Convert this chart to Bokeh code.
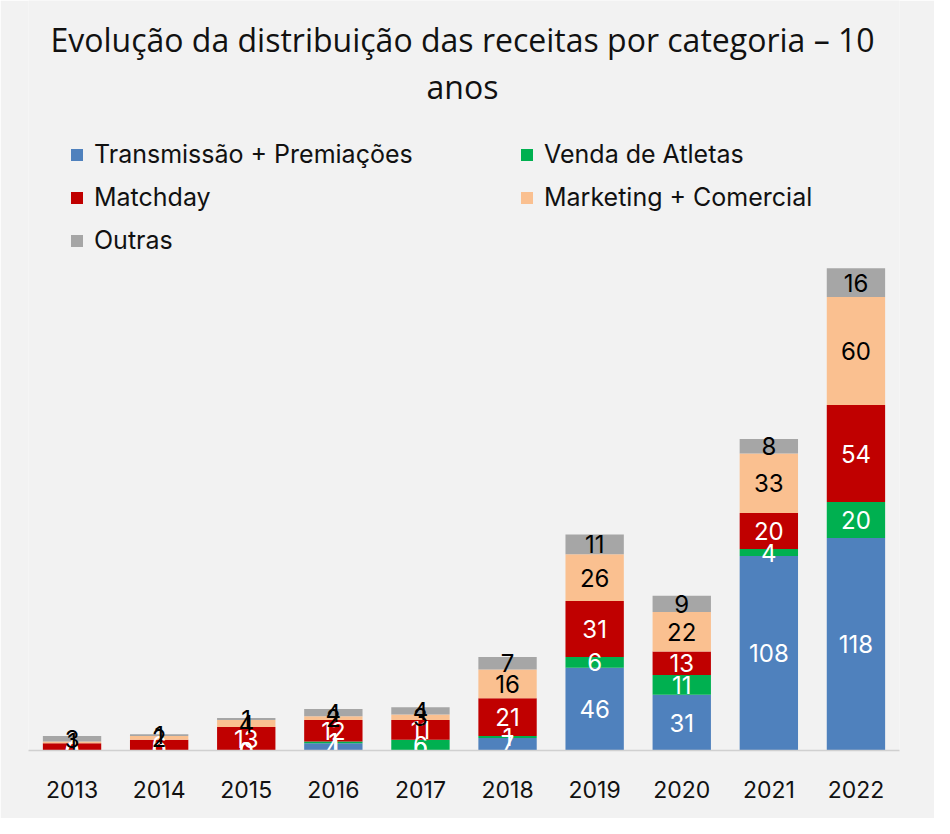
import numpy as np
from bokeh.plotting import figure
from bokeh.models import Range1d, Legend, LegendItem, Label, ColumnDataSource
from bokeh.core.properties import value
from bokeh.embed import file_html
from bokeh.resources import INLINE

years = ["2013", "2014", "2015", "2016", "2017", "2018", "2019", "2020", "2021", "2022"]
transmissao = [0, 0, 0, 4, 0, 7, 46, 31, 108, 118]
venda = [0, 0, 0, 1, 6, 1, 6, 11, 4, 20]
matchday = [4, 6, 13, 12, 11, 21, 31, 13, 20, 54]
marketing = [1, 2, 4, 2, 3, 16, 26, 22, 33, 60]
outras = [3, 1, 1, 4, 4, 7, 11, 9, 8, 16]

series = ["transmissao", "venda", "matchday", "marketing", "outras"]
names = ["Transmissão + Premiações", "Venda de Atletas", "Matchday", "Marketing + Comercial", "Outras"]
colors = ["#4f81bd", "#00b050", "#c00000", "#fac090", "#a6a6a6"]
label_colors = ["white", "white", "white", "black", "black"]
title_line1 = "Evolução da distribuição das receitas por categoria – 10"
title_line2 = "anos"

BG = "#f2f2f2"
FONT = "Inter"

data = dict(years=years, transmissao=transmissao, venda=venda, matchday=matchday,
            marketing=marketing, outras=outras)
src = ColumnDataSource(data)

p = figure(x_range=years, y_range=Range1d(0, 416.7), width=934, height=818,
           output_backend="svg", toolbar_location=None,
           min_border_left=28, min_border_right=35, min_border_top=0, min_border_bottom=68,
           background_fill_color=BG, border_fill_color=BG, outline_line_color=None)
p.x_range.range_padding = 0

renderers = p.vbar_stack(series, x="years", width=0.67, color=colors, source=src,
                         line_color=None)

# data labels
vals = np.array([transmissao, venda, matchday, marketing, outras], dtype=float)
bottoms = np.vstack([np.zeros(len(years)), np.cumsum(vals, axis=0)[:-1]])
for i in range(len(series)):
    ys = bottoms[i] + vals[i] / 2.0
    ls = ColumnDataSource(dict(x=years, y=ys, t=[str(int(v)) for v in vals[i]]))
    p.text(x="x", y="y", text="t", source=ls, text_align="center", text_baseline="middle",
           text_color=label_colors[i], text_font=value(FONT), text_font_size="24px")

# legend (column-first order)
order = [0, 2, 4, 1, 3]
items = [LegendItem(label=names[k], renderers=[renderers[k]]) for k in order]
legend = Legend(items=items, location=(41, 495), orientation="vertical", nrows=3,
                glyph_width=15, glyph_height=15, label_standoff=10, label_width=412,
                spacing=13, padding=0, margin=0, border_line_color=None,
                background_fill_alpha=0, label_text_font=FONT, label_text_font_size="25px",
                label_text_color="#111111", label_height=25)
p.add_layout(legend, "center")

for txt, ypos in [(title_line1, 711), (title_line2, 664)]:
    p.add_layout(Label(x=434, y=ypos, x_units="screen", y_units="screen", text=txt,
                       text_align="center", text_baseline="middle", text_font="Open Sans",
                       text_font_size="32px", text_color="#111111"))

p.yaxis.visible = False
p.ygrid.grid_line_color = None
p.xgrid.grid_line_color = None
p.xaxis.axis_line_color = "#d0d0d0"
p.xaxis.axis_line_width = 1.5
p.xaxis.major_tick_line_color = None
p.xaxis.minor_tick_line_color = None
p.xaxis.major_label_standoff = 24
p.xaxis.major_label_text_font = FONT
p.xaxis.major_label_text_font_size = "23px"
p.xaxis.major_label_text_color = "#111111"

open("out.html", "w").write(file_html(p, INLINE))
